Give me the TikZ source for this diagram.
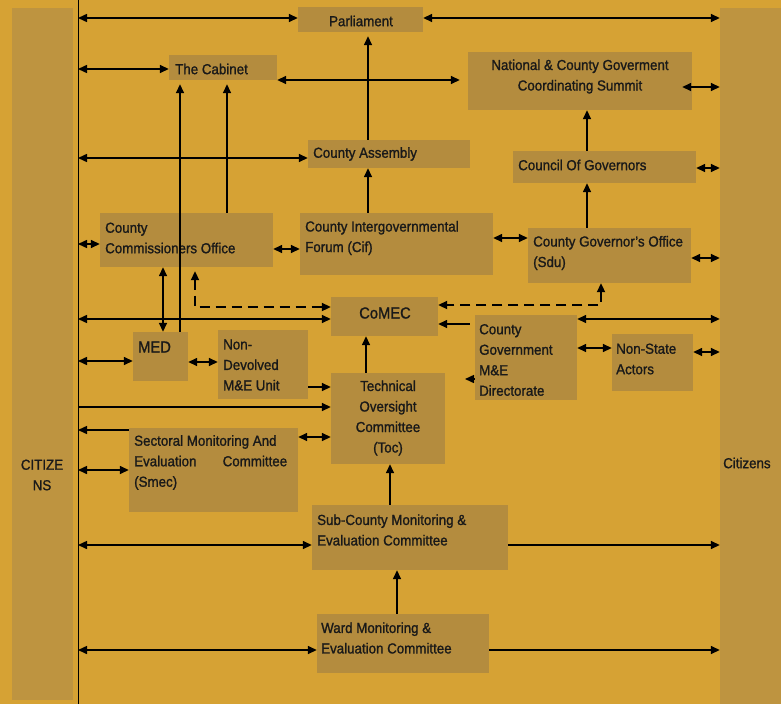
\documentclass[tikz,border=0pt]{standalone}
\usepackage{fontspec}
\setmainfont{Liberation Sans}[FakeStretch=0.92,FakeBold=1.2]
\usetikzlibrary{arrows.meta}
\definecolor{bgc}{RGB}{214,162,52}
\definecolor{boxc}{RGB}{180,140,62}
\definecolor{barc}{RGB}{190,148,64}
\begin{document}
\begin{tikzpicture}[x=1pt,y=-1pt,
  box/.style={rectangle, fill=boxc, draw=none, inner sep=0pt},
  bar/.style={rectangle, fill=barc, draw=none, inner sep=0pt},
  txt/.style={inner sep=0pt, align=left, text=black!90, font=\fontsize{14.5}{20.5}\selectfont},
  bigtxt/.style={inner sep=0pt, text=black!90, font=\fontsize{16}{20}\selectfont},
  arr/.style={line width=1.5pt, -{Triangle[length=9pt,width=8pt]}},
  dbl/.style={line width=1.5pt, {Triangle[length=9pt,width=8pt]}-{Triangle[length=9pt,width=8pt]}},
  dsh/.style={dash pattern=on 10pt off 6pt, line width=2pt}]
\useasboundingbox (0,0) rectangle (781,704);
\fill[bgc] (0,0) rectangle (781,704);

% side bars
\node[bar, minimum width=61pt, minimum height=692pt] (lbar) at (42.5,354) {};
\node[bar, minimum width=61pt, minimum height=696pt] (rbar) at (750.5,356) {};
\coordinate (Ltop) at (78,0);
\coordinate (Lbot) at (78,704);
\draw[line width=1pt] (Ltop) -- (Lbot);

% boxes
\node[box, minimum width=125pt, minimum height=25pt] (parl) at (360.5,19.5) {};
\node[box, minimum width=108pt, minimum height=25pt] (cab) at (223,67.5) {};
\node[box, minimum width=224pt, minimum height=58pt] (summit) at (580,81) {};
\node[box, minimum width=162pt, minimum height=28pt] (assem) at (389,154) {};
\node[box, minimum width=183pt, minimum height=32pt] (council) at (604.5,167) {};
\node[box, minimum width=173pt, minimum height=54pt] (comm) at (186.5,240) {};
\node[box, minimum width=193pt, minimum height=62pt] (cif) at (396.5,244) {};
\node[box, minimum width=163pt, minimum height=55pt] (gov) at (609.5,255.5) {};
\node[box, minimum width=107pt, minimum height=39pt] (comec) at (384.5,316.5) {};
\node[box, minimum width=55pt, minimum height=49pt] (med) at (160.5,356.5) {};
\node[box, minimum width=90pt, minimum height=69pt] (nondev) at (263,364.5) {};
\node[box, minimum width=102pt, minimum height=85pt] (dir) at (526,357.5) {};
\node[box, minimum width=81pt, minimum height=57pt] (nsa) at (652.5,362.5) {};
\node[box, minimum width=114pt, minimum height=91pt] (toc) at (388,418.5) {};
\node[box, minimum width=169pt, minimum height=84pt] (smec) at (213.5,470) {};
\node[box, minimum width=196pt, minimum height=65pt] (sub) at (410,537.5) {};
\node[box, minimum width=172pt, minimum height=59pt] (ward) at (403,643.5) {};

% texts
\node[txt, anchor=center] (tparl) at (361,21) {Parliament};
\node[txt, anchor=west] (tcab) at (175,69) {The Cabinet};
\node[txt, anchor=center, align=center] (tsum) at (580,76.5) {National \& County Goverment\\Coordinating Summit};
\node[txt, anchor=west] (tassem) at (313,154) {County Assembly};
\node[txt, anchor=west] (tcouncil) at (518,165) {Council Of Governors};
\node[txt, anchor=west] (tcomm) at (105,238) {County\\Commissioners Office};
\node[txt, anchor=west] (tcif) at (305,238) {County Intergovernmental\\Forum (Cif)};
\node[txt, anchor=west] (tgov) at (533,253) {County Governor's Office\\(Sdu)};
\node[bigtxt, anchor=center] (tcomec) at (385,313) {CoMEC};
\node[bigtxt, anchor=west] (tmed) at (138,347) {MED};
\node[txt, anchor=west] (tnondev) at (223,365) {Non-\\Devolved\\M\&E Unit};
\node[txt, anchor=west] (tdir) at (479,360) {County\\Government\\M\&E\\Directorate};
\node[txt, anchor=west] (tnsa) at (616,359) {Non-State\\Actors};
\node[txt, anchor=center, align=center] (ttoc) at (388,418) {Technical\\Oversight\\Committee\\(Toc)};
\node[txt, anchor=west] (tsmec) at (134,462.5) {Sectoral Monitoring And\\\hbox to 153pt{Evaluation\hfill Committee}\\(Smec)};
\node[txt, anchor=west] (tsub) at (317,530) {Sub-County Monitoring \&\\Evaluation Committee};
\node[txt, anchor=west] (tward) at (321,638) {Ward Monitoring \&\\Evaluation Committee};
\node[txt, anchor=center, align=center] (tcit1) at (42,475) {CITIZE\\NS};
\node[txt, anchor=west] (tcit2) at (723,463) {Citizens};

% connectors
\draw[dbl] (Ltop |- 0,18) -- (parl.west |- 0,18);
\draw[dbl] (parl.east |- 0,18) -- (rbar.west |- 0,18);
\draw[dbl] (Ltop |- 0,69) -- (cab.west |- 0,69);
\draw[dbl, shorten >=8pt] (cab.east |- 0,80) -- (summit.west |- 0,80);
\draw[dbl, shorten <=-10pt] (summit.east |- 0,87) -- (rbar.west |- 0,87);
\draw[arr] (council.north -| 587,0) -- (summit.south -| 587,0);
\draw[dbl] (council.east |- 0,168) -- (rbar.west |- 0,168);
\draw[arr] (gov.north -| 587,0) -- (council.south -| 587,0);
\draw[arr, shorten >=4pt] (assem.north -| 368,0) -- (parl.south -| 368,0);
\draw[arr] (cif.north -| 368,0) -- (assem.south -| 368,0);
\draw[dbl] (Ltop |- 0,158) -- (assem.west |- 0,158);
\draw[arr, shorten >=4pt] (med.north -| 180,0) -- (cab.south -| 180,0);
\draw[arr, shorten >=4pt] (comm.north -| 227,0) -- (cab.south -| 227,0);
\draw[dbl] (Ltop |- 0,244) -- (comm.west |- 0,244);
\draw[dbl] (comm.east |- 0,249) -- (cif.west |- 0,249);
\draw[dbl] (cif.east |- 0,238) -- (gov.west |- 0,238);
\draw[dbl] (gov.east |- 0,258) -- (rbar.west |- 0,258);
\draw[dbl] (comm.south -| 163,0) -- (med.north -| 163,0);
\draw[dbl, dsh, shorten <=4pt] (comm.south -| 195,0) |- (comec.west |- 0,307);
\draw[dbl, dsh] (gov.south -| 601,0) |- (comec.east |- 0,305);
\draw[dbl] (Ltop |- 0,319) -- (comec.west |- 0,319);
\draw[dbl] (dir.east |- 0,319) -- (rbar.west |- 0,319);
\draw[arr, shorten <=5pt] (dir.west |- 0,324) -- (comec.east |- 0,324);
\coordinate (stub) at (465,379);
\draw[arr] (dir.west |- stub) -- (stub);
\draw[dbl] (dir.east |- 0,348) -- (nsa.west |- 0,348);
\draw[dbl] (nsa.east |- 0,352) -- (rbar.west |- 0,352);
\draw[dbl] (Ltop |- 0,361) -- (med.west |- 0,361);
\draw[dbl] (med.east |- 0,362) -- (nondev.west |- 0,362);
\draw[arr] (nondev.east |- 0,387) -- (toc.west |- 0,387);
\draw[arr] (toc.north -| 366,0) -- (comec.south -| 366,0);
\draw[arr] (Ltop |- 0,407) -- (toc.west |- 0,407);
\draw[arr] (smec.west |- 0,430) -- (Ltop |- 0,430);
\draw[dbl] (Ltop |- 0,470) -- (smec.west |- 0,470);
\draw[dbl] (smec.east |- 0,437) -- (toc.west |- 0,437);
\draw[arr] (sub.north -| 390,0) -- (toc.south -| 390,0);
\draw[dbl] (Ltop |- 0,545) -- (sub.west |- 0,545);
\draw[arr] (sub.east |- 0,545) -- (rbar.west |- 0,545);
\draw[arr] (ward.north -| 397,0) -- (sub.south -| 397,0);
\draw[dbl] (Ltop |- 0,650) -- (ward.west |- 0,650);
\draw[arr] (ward.east |- 0,650) -- (rbar.west |- 0,650);
\end{tikzpicture}
\end{document}
